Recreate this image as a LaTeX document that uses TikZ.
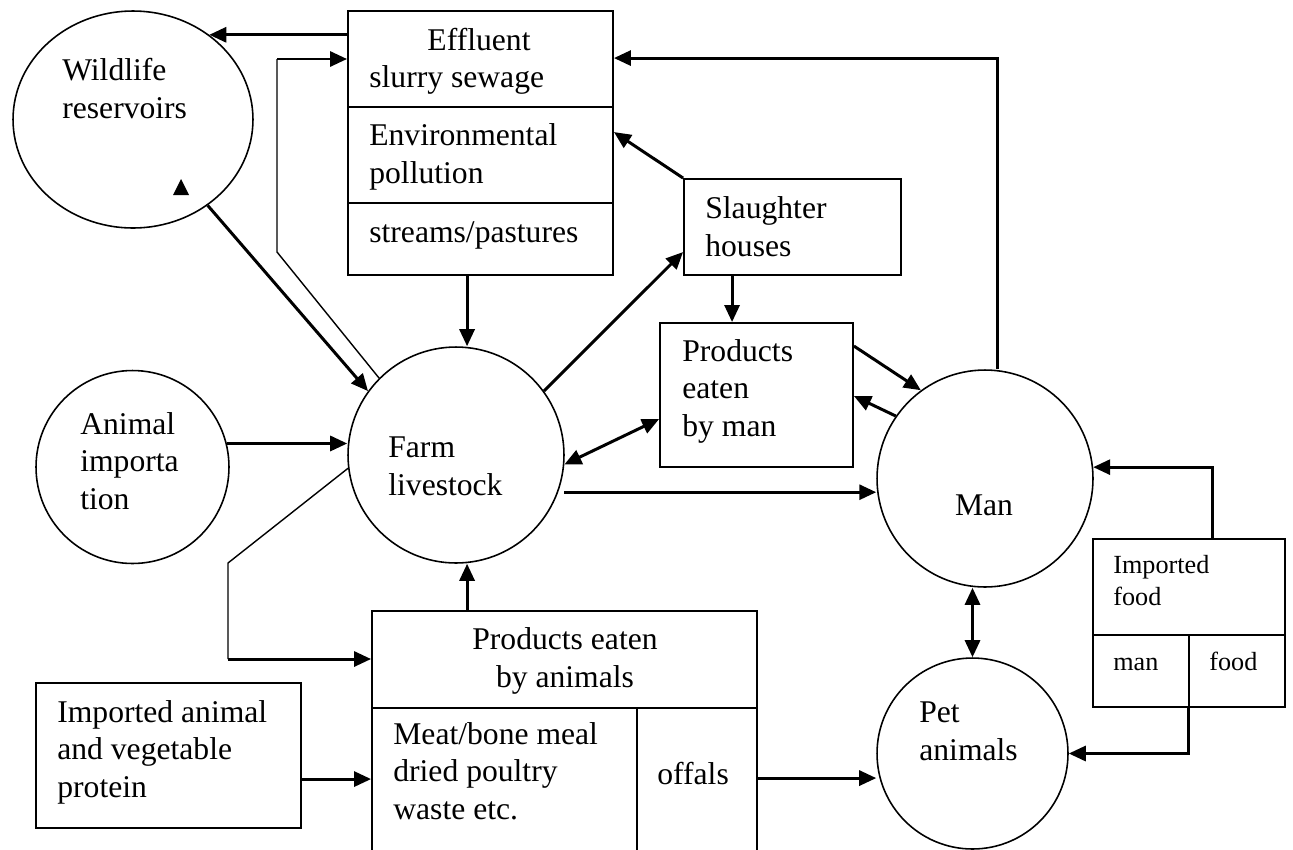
\documentclass[tikz,border=0pt]{standalone}
\usepackage{fontspec}
\setmainfont{Liberation Serif}
\usetikzlibrary{shapes.geometric,arrows.meta,calc}

\tikzset{
  circ/.style={draw, ellipse, inner sep=0pt, line width=0.9pt},
  panel/.style={draw, rectangle, inner sep=0pt, line width=1.1pt},
  lbl/.style={anchor=base west, inner sep=0pt, align=left, font=\fontsize{18}{21.1}\selectfont},
  smalllbl/.style={anchor=base west, inner sep=0pt, align=left, font=\fontsize{14.9}{18.2}\selectfont},
  flow/.style={-{Triangle[length=3.4mm,width=3mm]}, line width=1.7pt},
  twoway/.style={{Triangle[length=3.4mm,width=3mm]}-{Triangle[length=3.4mm,width=3mm]}, line width=1.7pt},
  thinline/.style={line width=0.8pt}
}

\begin{document}
\begin{tikzpicture}[x=0.02cm, y=-0.02cm]
\useasboundingbox (0,0) rectangle (1293,849);
\clip (0,0) rectangle (1293,849);

% Round nodes
\node[circ, minimum width=4.8cm, minimum height=4.34cm] (wild) at (133,119.5) {};
\node[circ, minimum width=3.86cm, minimum height=3.86cm] (anim) at (132.5,467) {};
\node[circ, minimum width=4.32cm, minimum height=4.32cm] (farm) at (456,455) {};
\node[circ, minimum width=4.32cm, minimum height=4.34cm] (man) at (985,478.5) {};
\node[circ, minimum width=3.82cm, minimum height=3.82cm] (pet) at (972.5,753.5) {};

% Effluent box with its three parts
\node[panel, minimum width=5.3cm, minimum height=5.28cm] (effl) at (480.5,143) {};
\draw[line width=1.1pt] (effl.west |- 0,107) -- (effl.east |- 0,107);
\draw[line width=1.1pt] (effl.west |- 0,203) -- (effl.east |- 0,203);

% Slaughter houses and products eaten by man
\node[panel, minimum width=4.34cm, minimum height=1.92cm] (slau) at (792.5,227) {};
\node[panel, minimum width=3.86cm, minimum height=2.88cm] (prodman) at (756.5,395) {};

% Products eaten by animals (runs off the bottom)
\node[panel, minimum width=7.7cm, minimum height=5.38cm] (prodani) at (564.5,745.5) {};
\draw[line width=1.1pt] (prodani.west |- 0,708) -- (prodani.east |- 0,708);
\draw[line width=1.1pt] (637,708) -- (637,880);

% Imported protein and imported food
\node[panel, minimum width=5.3cm, minimum height=2.9cm] (impan) at (168.5,755.5) {};
\node[panel, minimum width=3.84cm, minimum height=3.36cm] (impfood) at (1189,623) {};
\draw[line width=1.1pt] (impfood.west |- 0,635) -- (impfood.east |- 0,635);
\draw[line width=1.1pt] (1189,635) -- (1189,707);

% Texts (base = baseline of the last line)
\node[lbl] (twild) at (62,118) {Wildlife\\reservoirs};
\node[lbl, anchor=base] (teffl) at (479,50) {Effluent};
\node[lbl] (tslurry) at (369,87) {slurry sewage};
\node[lbl] (tenv) at (369,183) {Environmental\\pollution};
\node[lbl] (tstream) at (369,242) {streams/pastures};
\node[lbl] (tslau) at (705,256) {Slaughter\\houses};
\node[lbl] (tprodman) at (682,436) {Products\\eaten\\by man};
\node[lbl] (tanim) at (80,509) {Animal\\importa\\tion};
\node[lbl] (tfarm) at (388,495) {Farm\\livestock};
\node[lbl, anchor=base] (tman) at (984,515) {Man};
\node[lbl] (tpet) at (919,760) {Pet\\animals};
\node[lbl, anchor=base, align=center] (tprodani) at (565,687) {Products eaten\\by animals};
\node[lbl] (tmeat) at (393,819) {Meat/bone meal\\dried poultry\\waste etc.};
\node[lbl] (toffals) at (657,784) {offals};
\node[lbl] (timpan) at (57,797) {Imported animal\\and vegetable\\protein};
\node[smalllbl] (timpfood) at (1113,605) {Imported\\food};
\node[smalllbl] (tfman) at (1113,670) {man};
\node[smalllbl] (tffood) at (1209,670) {food};

% Stray arrow head inside the wildlife circle
\fill (173,195) -- (189,195) -- (181,179) -- cycle;

% Flows round the effluent box
\draw[flow] (effl.west |- wild.48) -- (wild.48);
\coordinate (loopA) at (277,252);
\coordinate (loopB) at (277,59);
\draw[thinline] (farm.135) -- (loopA) -- (loopB);
\draw[flow] (loopB) -- (loopB -| effl.west);
\draw[flow] (wild.311) -- (farm.144);
\draw[flow] ($(effl.south west)+(120,0)$) coordinate (efflout) -- (efflout |- farm.north);
\draw[flow] (slau.north west) -- ($(effl.north east)+(0,122)$);
\draw[flow] ($(man.north)+(12,0)$) |- ($(effl.north east)+(0,48)$);

% Farm livestock and man
\draw[flow] (anim.14) -- (anim.14 -| farm.west);
\draw[flow] (farm.36) -- ($(slau.north west)+(0,74)$);
\draw[flow] ($(slau.south west)+(49,0)$) coordinate (slauout) -- (slauout |- prodman.north);
\draw[twoway] (farm.355) -- ($(prodman.north west)+(0,97)$);
\draw[flow] ($(farm.340)+(6,0)$) coordinate (farmout) -- (farmout -| man.west);
\draw[flow] ($(prodman.north east)+(0,24)$) -- (man.126);
\draw[flow] (man.145) -- ($(prodman.north east)+(0,74)$);

% Feed loop
\coordinate (feedA) at (228,563);
\coordinate (feedB) at (228,659);
\draw[thinline] (farm.187) -- (feedA) -- (feedB);
\draw[flow] (feedB) -- (feedB -| prodani.west);
\draw[flow] ($(prodani.north west)+(96,0)$) coordinate (produp) -- (produp |- farm.south);
\draw[flow] ($(impan.north east)+(0,97)$) coordinate (impout) -- (impout -| prodani.west);
\draw[flow] ($(prodani.north east)+(0,168)$) coordinate (offout) -- (offout -| pet.west);

% Man, pets and imported food
\draw[twoway] (pet.north |- man.south) -- (pet.north);
\draw[flow] ($(impfood.north west)+(120,0)$) |- (man.6);
\draw[flow] ($(impfood.south west)+(96,0)$) |- (pet.east);
\end{tikzpicture}
\end{document}
